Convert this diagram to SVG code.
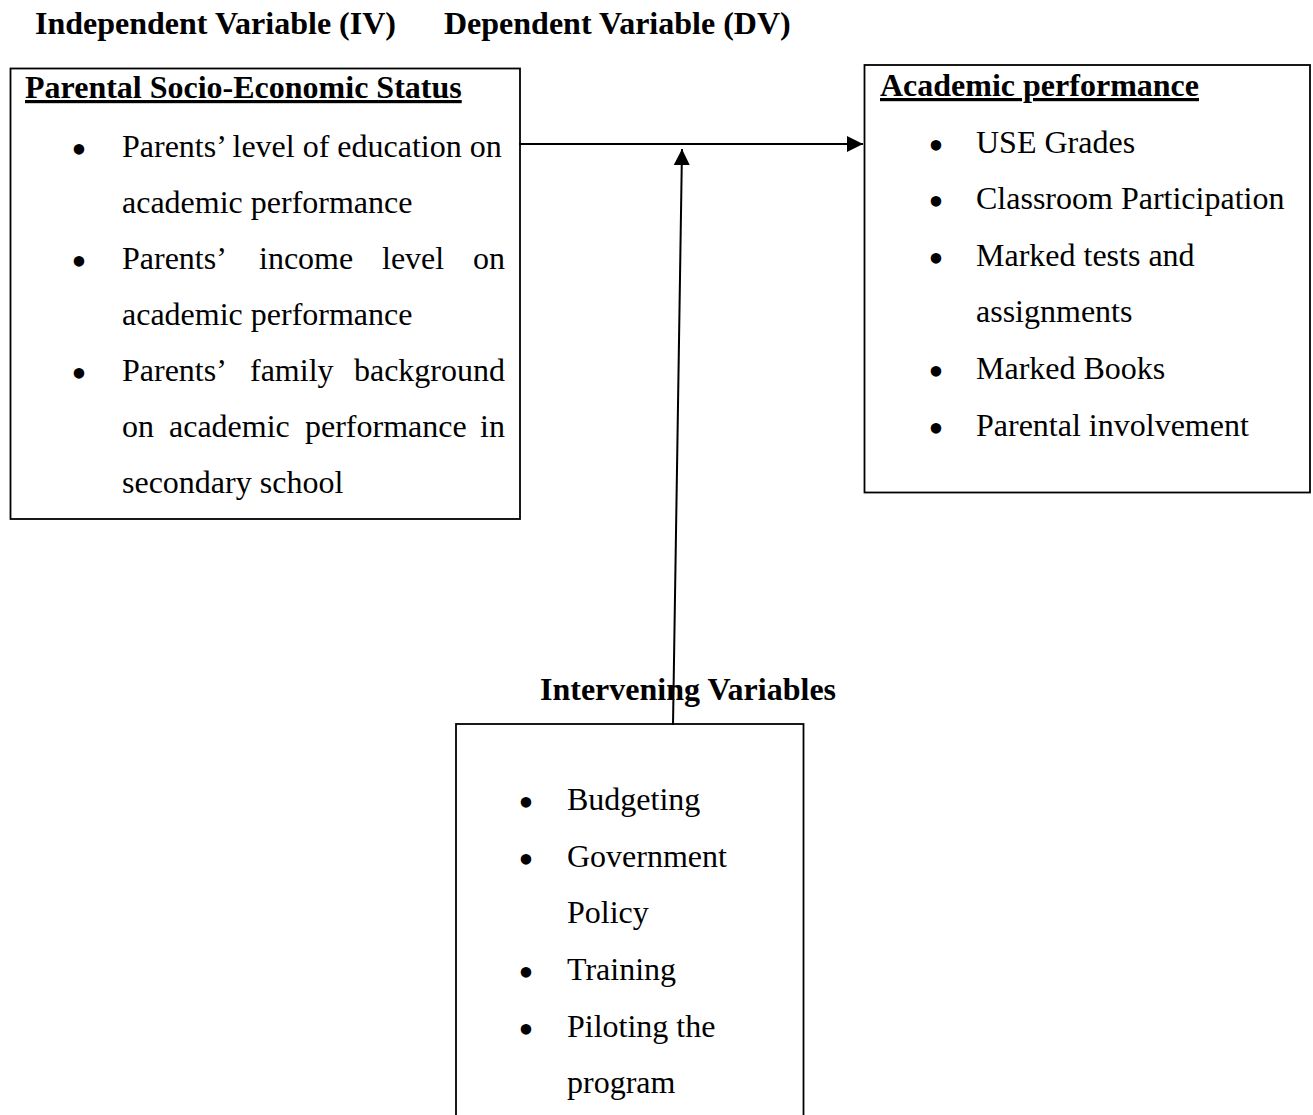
<svg xmlns="http://www.w3.org/2000/svg" width="1313" height="1115" viewBox="0 0 1313 1115">
<style>
  .box { fill: #ffffff; stroke: #000000; stroke-width: 1.8; }
  .t { font-family: "Liberation Serif", "Times New Roman", serif; font-size: 32px; fill: #000000; }
  .b { font-family: "Liberation Serif", "Times New Roman", serif; font-size: 32px; font-weight: bold; fill: #000000; }
  .u { text-decoration: underline; }
  .dot { font-family: "Liberation Serif", "Times New Roman", serif; font-size: 44px; fill: #000000; text-anchor: middle; }
  .conn { stroke: #000000; stroke-width: 2; fill: none; }
</style>
<defs>
  <marker id="arrow" markerUnits="userSpaceOnUse" markerWidth="17" markerHeight="16" refX="16" refY="8" orient="auto">
    <path d="M0,0 L16,8 L0,16 Z" fill="#000000"/>
  </marker>
</defs>
<rect width="1313" height="1115" fill="#ffffff"/>

<g id="headers">
  <text class="b" x="35" y="34">Independent Variable (IV)</text>
  <text class="b" x="444" y="34">Dependent Variable (DV)</text>
</g>

<g id="node-iv">
  <rect class="box" x="10.5" y="68.5" width="509.5" height="450.5"/>
  <text class="b u" x="25" y="98">Parental Socio-Economic Status</text>
  <text class="dot" x="79" y="164">•</text>
  <text class="t" x="122" y="157">Parents’ level of education on</text>
  <text class="t" x="122" y="213">academic performance</text>
  <text class="dot" x="79" y="276">•</text>
  <text class="t" x="122" y="269">Parents’</text>
  <text class="t" x="259" y="269">income</text>
  <text class="t" x="382" y="269">level</text>
  <text class="t" x="505" y="269" text-anchor="end">on</text>
  <text class="t" x="122" y="325">academic performance</text>
  <text class="dot" x="79" y="388">•</text>
  <text class="t" x="122" y="381">Parents’</text>
  <text class="t" x="250" y="381">family</text>
  <text class="t" x="505" y="381" text-anchor="end">background</text>
  <text class="t" x="122" y="437">on</text>
  <text class="t" x="169" y="437">academic</text>
  <text class="t" x="305" y="437">performance</text>
  <text class="t" x="505" y="437" text-anchor="end">in</text>
  <text class="t" x="122" y="493">secondary school</text>
</g>

<g id="node-dv">
  <rect class="box" x="864.5" y="65" width="445.5" height="427.5"/>
  <text class="b u" x="880" y="96">Academic performance</text>
  <text class="dot" x="936" y="160">•</text>
  <text class="t" x="976" y="153">USE Grades</text>
  <text class="dot" x="936" y="216">•</text>
  <text class="t" x="976" y="209">Classroom Participation</text>
  <text class="dot" x="936" y="273">•</text>
  <text class="t" x="976" y="266">Marked tests and</text>
  <text class="t" x="976" y="322">assignments</text>
  <text class="dot" x="936" y="386">•</text>
  <text class="t" x="976" y="379">Marked Books</text>
  <text class="dot" x="936" y="443">•</text>
  <text class="t" x="976" y="436">Parental involvement</text>
</g>

<g id="node-intervening">
  <text class="b" x="540" y="700">Intervening Variables</text>
  <rect class="box" x="456" y="724" width="347.5" height="400"/>
  <text class="dot" x="526" y="817">•</text>
  <text class="t" x="567" y="810">Budgeting</text>
  <text class="dot" x="526" y="874">•</text>
  <text class="t" x="567" y="867">Government</text>
  <text class="t" x="567" y="923">Policy</text>
  <text class="dot" x="526" y="987">•</text>
  <text class="t" x="567" y="980">Training</text>
  <text class="dot" x="526" y="1044">•</text>
  <text class="t" x="567" y="1037">Piloting the</text>
  <text class="t" x="567" y="1093">program</text>
</g>

<g id="connectors">
  <line class="conn" x1="519" y1="144" x2="863" y2="144" marker-end="url(#arrow)"/>
  <line class="conn" x1="673" y1="725" x2="682" y2="149" marker-end="url(#arrow)"/>
</g>
</svg>
